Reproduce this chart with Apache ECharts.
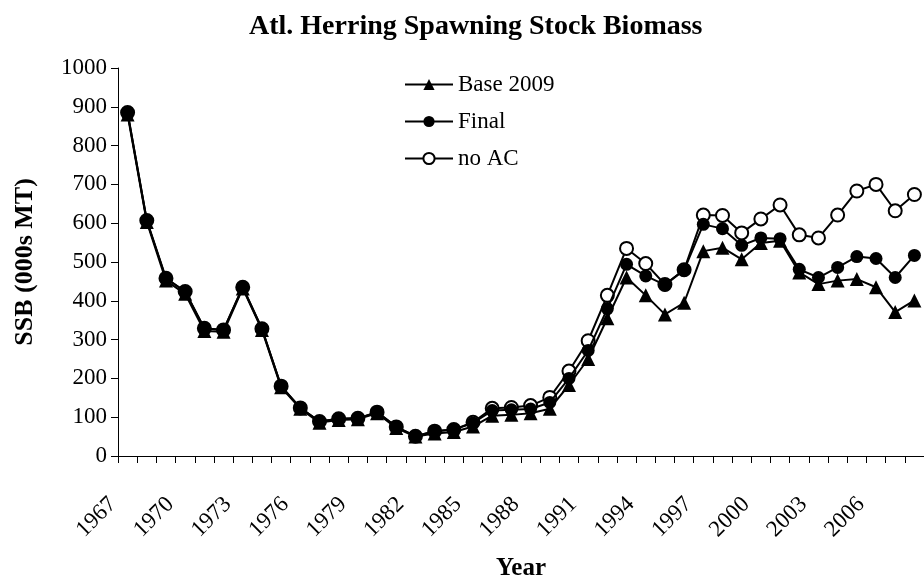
<!DOCTYPE html>
<html>
<head>
<meta charset="utf-8">
<title>Atl. Herring Spawning Stock Biomass</title>
<script src="https://cdn.jsdelivr.net/npm/echarts@6/dist/echarts.min.js"></script>
<style>
  html, body { margin: 0; padding: 0; background: #fff; }
  #chart { width: 924px; height: 586px; }
</style>
</head>
<body>
<div id="chart"></div>
<script>
// years on the x axis
const years = []
for (let y = 1967; y <= 2008; y++) years.push(String(y))

// SSB (000s MT)
const base2009 = [880, 603, 452, 418, 322, 320, 432, 325, 177, 122,
  86, 93, 95, 110, 72, 50, 58, 62, 76, 104,
  106, 110, 122, 183, 250, 355, 460, 414, 365, 395,
  528, 537, 507, 549, 555, 473, 443, 452, 456, 435,
  371, 401]
const finalRun = [885, 607, 458, 424, 329, 325, 435, 328, 180, 124,
  89, 96, 97, 113, 75, 51, 64, 68, 85, 117,
  119, 121, 138, 200, 272, 380, 494, 464, 441, 479,
  597, 586, 543, 562, 560, 481, 460, 486, 514, 509,
  460, 517]
const noAC = [885, 607, 458, 424, 329, 325, 435, 328, 180, 124,
  89, 96, 97, 113, 75, 51, 64, 68, 87, 123,
  125, 130, 151, 219, 297, 414, 535, 496, 442, 480,
  621, 620, 575, 611, 647, 570, 562, 621, 683, 700,
  632, 674]

const font = 'Liberation Serif'
const chart = echarts.init(document.getElementById('chart'))

const option = {
  backgroundColor: '#fff',
  animation: false,
  title: {
    text: 'Atl. Herring Spawning Stock Biomass',
    left: 244,
    top: 8,
    textStyle: { fontFamily: font, fontSize: 28, fontWeight: 'bold', color: '#000' }
  },
  legend: {
    orient: 'vertical',
    left: 404,
    top: 73,
    padding: 0,
    itemWidth: 48,
    itemHeight: 14,
    itemGap: 14,
    data: ['Base 2009', 'Final', 'no AC'],
    textStyle: { fontFamily: font, fontSize: 23, color: '#000' }
  },
  grid: { left: 118, right: 0, top: 68, bottom: 125 },
  xAxis: {
    type: 'category',
    data: years,
    boundaryGap: true,
    name: 'Year',
    nameLocation: 'middle',
    nameGap: 100,
    nameTextStyle: { fontFamily: font, fontSize: 25, fontWeight: 'bold', color: '#000' },
    axisLine: { lineStyle: { color: '#000', width: 1 } },
    axisTick: { show: true, interval: 0, length: 7, lineStyle: { color: '#000' } },
    axisLabel: {
      interval: 2,
      rotate: 45,
      margin: 30,
      padding: [0, 21, 0, 0],
      fontFamily: font,
      fontSize: 23,
      color: '#000'
    }
  },
  yAxis: {
    type: 'value',
    min: 0,
    max: 1000,
    interval: 100,
    name: 'SSB (000s MT)',
    nameLocation: 'middle',
    nameGap: 80,
    nameTextStyle: { fontFamily: font, fontSize: 26, fontWeight: 'bold', color: '#000' },
    axisLine: { show: true, lineStyle: { color: '#000', width: 1 } },
    axisTick: { show: true, length: 7, lineStyle: { color: '#000' } },
    splitLine: { show: false },
    axisLabel: { margin: 11, fontFamily: font, fontSize: 23, color: '#000', formatter: v => String(v) }
  },
  series: [
    {
      name: 'no AC',
      type: 'line',
      data: noAC,
      z: 2,
      showAllSymbol: true,
      symbol: 'circle',
      symbolSize: 13,
      lineStyle: { color: '#000', width: 2 },
      itemStyle: { color: '#fff', borderColor: '#000', borderWidth: 2 }
    },
    {
      name: 'Final',
      type: 'line',
      data: finalRun,
      z: 3,
      showAllSymbol: true,
      symbol: 'circle',
      symbolSize: 13,
      lineStyle: { color: '#000', width: 2 },
      itemStyle: { color: '#000' }
    },
    {
      name: 'Base 2009',
      type: 'line',
      data: base2009,
      z: 4,
      showAllSymbol: true,
      symbol: 'triangle',
      symbolSize: 14,
      lineStyle: { color: '#000', width: 2 },
      itemStyle: { color: '#000' }
    }
  ]
}

chart.setOption(option)
</script>
</body>
</html>
